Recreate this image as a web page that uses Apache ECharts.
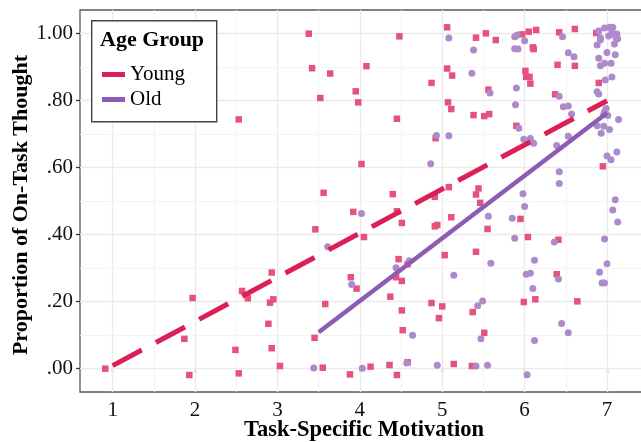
<!DOCTYPE html>
<html>
<head>
<meta charset="utf-8">
<script src="https://cdn.jsdelivr.net/npm/echarts@6/dist/echarts.min.js"></script>
<style>html,body{margin:0;padding:0;background:#fff}#c{width:641px;height:442px}</style>
</head>
<body>
<div id="c"></div>
<script>
// ---- data ----
const youngX = [0.91,1.87,1.93,1.97,2.49,2.53,2.57,2.64,2.89,2.91,2.93,2.95,2.93,3.03,3.45,3.46,2.53,3.38,3.42,3.52,
  4.48,4.08,3.64,4.87,3.95,3.98,4.45,4.92,4.02,3.56,4.40,5.06,5.41,5.53,5.65,5.97,6.05,6.14,6.42,6.61,
  6.87,6.10,6.11,5.06,5.12,5.07,5.11,5.38,5.51,5.57,5.56,6.01,6.02,6.06,6.07,5.90,6.37,6.40,6.61,6.90,
  6.95,3.92,4.45,5.08,5.44,5.41,5.46,4.91,5.11,5.95,4.51,4.91,4.94,5.55,4.05,6.04,6.41,5.03,5.41,4.47,
  3.89,3.96,4.44,4.51,4.58,3.58,4.37,4.87,5.00,4.51,4.96,5.37,4.52,5.51,5.99,6.13,6.39,6.64,3.55,3.88,
  4.13,4.36,4.45,4.58,5.14,5.36];
const youngY = [0.000,0.089,-0.019,0.211,0.056,-0.014,0.232,0.210,0.134,0.197,0.287,0.207,0.061,0.008,0.092,0.416,0.744,1.000,0.897,0.808,
  0.992,0.903,0.881,0.853,0.828,0.795,0.746,0.688,0.611,0.525,0.521,1.019,0.988,1.001,0.981,0.998,1.006,1.011,1.004,1.014,
  1.002,0.959,0.954,0.896,0.875,0.795,0.775,0.757,0.754,0.760,0.833,0.889,0.871,0.871,0.851,0.725,0.819,0.907,0.904,0.853,
  0.604,0.468,0.470,0.542,0.538,0.520,0.495,0.513,0.452,0.447,0.435,0.425,0.429,0.417,0.393,0.393,0.385,0.339,0.349,0.327,
  0.273,0.239,0.273,0.262,0.312,0.193,0.215,0.196,0.186,0.174,0.151,0.169,0.115,0.107,0.199,0.207,0.282,0.201,0.003,-0.017,
  0.006,0.011,-0.019,0.019,0.014,0.008];
const oldX = [3.44,3.61,4.44,4.60,3.90,4.64,5.14,5.59,5.88,6.02,6.07,6.12,6.10,5.43,5.49,5.47,6.12,6.36,6.41,6.45,
  6.53,6.91,6.94,6.97,6.97,7.00,7.13,4.03,4.57,4.94,5.41,5.55,6.03,4.93,4.86,5.08,5.38,5.36,5.88,5.91,
  6.00,5.88,5.92,6.46,6.53,6.60,6.90,6.97,7.03,7.07,7.06,6.92,6.92,7.02,7.10,7.11,7.09,6.88,7.00,7.10,
  6.90,7.05,6.97,6.92,6.98,7.06,6.88,6.90,6.42,6.47,6.53,6.57,6.99,6.97,6.96,7.01,7.14,6.88,6.96,7.03,
  6.93,6.53,6.39,7.00,7.05,7.12,6.42,6.42,5.98,6.00,5.58,5.90,5.89,5.93,5.99,6.07,6.11,7.10,7.07,5.08,
  4.02,5.56,5.85,7.12,7.13];
const oldY = [0.002,0.364,0.301,0.322,0.251,0.100,0.279,0.315,0.389,0.282,0.285,0.324,0.239,0.188,0.202,0.089,0.084,0.378,0.268,0.135,
  0.107,0.288,0.256,0.256,0.387,0.313,0.438,0.001,0.017,0.010,0.008,0.010,-0.018,0.696,0.612,0.987,0.951,0.882,0.991,0.996,
  0.979,0.955,0.954,0.991,0.943,0.931,1.008,1.017,1.019,1.019,1.006,0.988,0.981,0.993,0.996,0.988,0.969,0.966,0.944,0.937,
  0.927,0.912,0.912,0.904,0.862,0.871,0.827,0.820,0.813,0.782,0.784,0.760,0.777,0.767,0.759,0.756,0.744,0.725,0.724,0.714,
  0.703,0.694,0.666,0.635,0.624,0.647,0.588,0.553,0.522,0.484,0.823,0.838,0.788,0.718,0.685,0.687,0.673,0.504,0.474,0.695,
  0.463,0.455,0.449,0.999,0.985];
// fitted lines (endpoints)
const youngFitX = [1.0, 7.0];
const youngFitY = [0.009, 0.800];
const oldFitX = [3.5, 7.0];
const oldFitY = [0.109, 0.763];
// ticks
const xTicks = [1,2,3,4,5,6,7];
const xMinorGrid = [1.5,2.5,3.5,4.5,5.5,6.5];
const yTicks = [0,0.2,0.4,0.6,0.8,1.0];
const yTickLabels = ['.00','.20','.40','.60','.80','1.00'];
const yMinorGrid = [0.1,0.3,0.5,0.7,0.9];

const zip = (a,b) => a.map((v,i)=>[v,b[i]]);
const FONT = 'Liberation Serif';
const majorStyle = {color:'#EBEBEB', width:1.4, type:'solid'};
const minorStyle = {color:'#F3F3F3', width:0.9, type:'solid'};
const gridLines = []
  .concat(xTicks.map(v=>({xAxis:v, lineStyle:majorStyle})))
  .concat(xMinorGrid.map(v=>({xAxis:v, lineStyle:minorStyle})))
  .concat(yTicks.map(v=>({yAxis:v, lineStyle:majorStyle})))
  .concat(yMinorGrid.map(v=>({yAxis:v, lineStyle:minorStyle})));

const chart = echarts.init(document.getElementById('c'), null, {renderer:'canvas'});
chart.setOption({
  animation:false,
  backgroundColor:'#fff',
  grid:{left:80, top:10, right:-1, bottom:50, outerBoundsMode:'none', containLabel:false,
    show:true, borderColor:'#5a5a5a', borderWidth:1.3, backgroundColor:'transparent'},
  xAxis:{
    type:'value', min:0.603, max:7.425,
    name:'Task-Specific Motivation', nameLocation:'middle', nameGap:27, nameMoveOverlap:false,
    nameTextStyle:{fontFamily:FONT, fontWeight:'bold', fontSize:22.5, color:'#000', padding:[0,0,0,6]},
    axisLine:{show:false},
    axisTick:{show:true, customValues:xTicks, length:4, lineStyle:{color:'#333', width:1.3}},
    axisLabel:{customValues:xTicks, margin:8, fontFamily:FONT, fontSize:21, color:'#111'},
    splitLine:{show:false}
  },
  yAxis:{
    type:'value', min:-0.0696, max:1.0707,
    name:'Proportion of On-Task Thought', nameLocation:'middle', nameGap:48, nameMoveOverlap:false,
    nameTextStyle:{fontFamily:FONT, fontWeight:'bold', fontSize:22, color:'#000', padding:[0,8,0,0]},
    axisLine:{show:false},
    axisTick:{show:true, customValues:yTicks, length:4, lineStyle:{color:'#333', width:1.3}},
    axisLabel:{customValues:yTicks, margin:7, fontFamily:FONT, fontSize:21, color:'#111',
      formatter:(v)=>{const i=yTicks.findIndex(t=>Math.abs(t-v)<1e-6); return i>=0?yTickLabels[i]:'';}},
    splitLine:{show:false}
  },
  legend:{
    data:[{name:'Young', icon:'rect'},{name:'Old', icon:'rect'}],
    orient:'vertical', left:97, top:59, itemWidth:23, itemHeight:5, itemGap:4,
    textStyle:{fontFamily:FONT, fontSize:21, color:'#000', lineHeight:21},
    z:20, selectedMode:false
  },
  graphic:[
    {type:'rect', left:91, top:20, z:10, shape:{width:125, height:101}, style:{fill:'#fff', stroke:'#444', lineWidth:1.4}},
    {type:'text', left:100, top:29, z:20, style:{text:'Age Group', font:'bold 22px "Liberation Serif"', fill:'#000'}}
  ],
  series:[
    {type:'scatter', name:'grid', data:[], silent:true, z:1,
      markLine:{silent:true, z:1, symbol:'none', label:{show:false}, animation:false, data:gridLines}},
    {type:'scatter', name:'Young points', data:zip(youngX,youngY), symbol:'rect', symbolSize:6.5,
      itemStyle:{color:'#E65280', opacity:1}, z:3, silent:true},
    {type:'scatter', name:'Old points', data:zip(oldX,oldY), symbol:'circle', symbolSize:7,
      itemStyle:{color:'#AD8BCB', opacity:1}, z:3, silent:true},
    {type:'line', name:'Old', data:zip(oldFitX,oldFitY), showSymbol:false, symbol:'none',
      lineStyle:{color:'#8C5BB4', width:4.5, cap:'butt'}, itemStyle:{color:'#8C5BB4'}, z:5, silent:true},
    {type:'line', name:'Young', data:zip(youngFitX,youngFitY), showSymbol:false, symbol:'none',
      lineStyle:{color:'#DC1F55', width:5, type:[33,16], cap:'butt'}, itemStyle:{color:'#DC1F55'}, z:6, silent:true}
  ]
});
</script>
</body>
</html>
